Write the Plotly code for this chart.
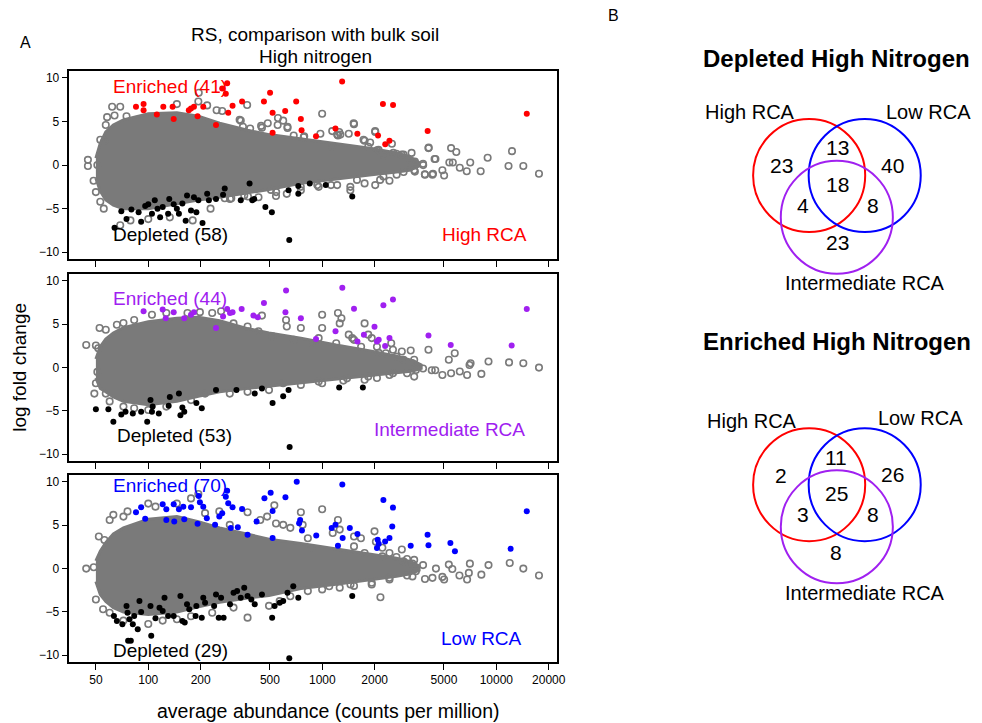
import math
import plotly.graph_objects as go

# ---------------- DATA ----------------
# x = average abundance (counts per million), y = log fold change
tick_cpm = [50, 100, 200, 500, 1000, 2000, 5000, 10000, 20000]
tick_lfc = [-10, -5, 0, 5, 10]

# --- High RCA panel (top) ---
high_enriched = [(85, 6.7), (94, 7.0), (94, 6.3), (112, 5.8), (122, 6.7), (138, 6.7), (140, 5.3),
                 (171, 6.3), (176, 6.5), (183, 6.7), (192, 5.6), (207, 6.7), (245, 4.6), (266, 8.8),
                 (279, 8.2), (284, 9.4), (288, 6.0), (305, 6.8), (346, 7.3), (462, 7.3), (501, 8.3),
                 (518, 6.0), (518, 3.7), (612, 6.2), (708, 7.3), (753, 5.3), (760, 4.0), (920, 3.3),
                 (1190, 4.2), (1300, 9.6), (1590, 3.6), (2090, 3.4), (2230, 7.0), (2300, 2.4),
                 (2430, 2.8), (2550, 6.9), (4030, 3.9), (14960, 5.9)]
high_depleted = [(64, -7.2), (70, -5.3), (75, -6.2), (80, -5.1), (88, -5.4), (91, -6.5), (96, -4.7),
                 (100, -4.5), (105, -5.6), (109, -4.05), (113, -5.0), (117, -6.0), (121, -4.8),
                 (130, -5.6), (132, -3.9), (140, -4.5), (146, -5.0), (150, -5.6), (157, -4.4),
                 (164, -6.4), (167, -3.5), (176, -5.2), (183, -3.7), (189, -5.4), (194, -4.05),
                 (205, -6.65), (218, -3.3), (223, -4.05), (245, -3.9), (269, -3.4), (275, -2.7),
                 (340, -4.05), (382, -2.1), (396, -4.05), (406, -3.9), (471, -4.8), (513, -5.4),
                 (640, -2.9), (646, -8.6), (728, -3.3), (728, -2.4), (847, -2.1), (1047, -2.3),
                 (1486, -3.6)]
high_other = [(62, 6.7), (58, 5.5), (57, 4.6), (64, 5.7), (75, 5.6), (69, 6.7), (53, 2.9), (56, 2.8),
              (45, 0.6), (45, -0.1), (51, 0.0), (48.5, -1.8), (50, -3.1), (53, -4.2), (55.5, -5.0),
              (69, -6.9), (146, 7.0), (195, 8.3), (194, 7.3), (218, 6.85), (247, 6.3), (370, 6.9),
              (340, 5.1), (385, 4.2), (450, 4.3), (556, 5.4), (596, 5.1), (631, 4.4), (685, 3.4),
              (782, 3.2), (998, 5.9), (975, 3.6), (1138, 2.1), (1230, 3.4), (1250, 3.8), (1419, 3.6),
              (1521, 4.7), (1750, 2.8), (2014, 3.8), (1837, 2.1), (2061, 1.7), (2512, 2.45),
              (2667, 1.3), (2265, 1.1), (79, -6.35), (100, -6.2), (133, -6.0), (180, -6.35),
              (228, -5.0), (295, -3.9), (356, -3.5), (430, -3.7), (543, -3.1), (625, -3.3),
              (753, -2.9), (953, -2.5), (1122, -2.3), (1449, -2.5), (1750, -2.1), (2014, -2.3),
              (2432, -1.8), (2931, -0.8), (1449, -2.9), (2931, 1.2), (3221, 0.2), (3373, -0.6),
              (3793, 0.15), (4074, 1.95), (4467, 0.7), (3890, -1.1), (4295, -1.1), (4898, -0.6),
              (5012, -1.2), (5370, 0.3), (5623, 0.3), (5495, 1.95), (5888, 1.5), (6166, -0.3),
              (6761, -0.7), (7079, 0.3), (8128, -0.7), (8913, 0.85), (11750, -0.1), (12300, 1.6),
              (14290, -0.1), (17580, -1.0),
              (266, 6.2), (335, 5.2), (350, 4.4), (445, 4.5), (486, 4.8), (554, 4.6), (631, 4.25),
              (787, 3.3), (1140, 3.9), (1217, 3.5), (1270, 3.5), (1514, 4.8), (1726, 2.9),
              (1884, 2.6), (2012, 3.9), (2105, 1.75), (2560, 1.4), (2856, 1.2), (3258, 1.4),
              (3404, 0.4), (3800, 0.0), (3882, -1.05), (4087, 2.0), (4325, -1.0), (4417, 0.7),
              (275, -3.8), (300, -3.8), (374, -3.6), (507, -2.85), (542, -3.55), (752, -2.5),
              (936, -2.3), (1217, -2.3), (1582, -1.7), (2149, -1.7), (2244, -1.3), (2674, -1.1),
              (3404, -0.75)]
high_core_cpm = [50, 53, 57, 63, 72, 100, 146, 194, 257, 372, 494, 753, 1200, 1920, 2670, 3160, 3600]
high_core_top = [0.8, 2.5, 3.8, 4.6, 5.2, 5.9, 6.0, 5.6, 4.8, 4.0, 3.5, 3.0, 2.4, 1.9, 1.4, 1.0, 0.3]
high_core_bot = [-1.5, -3.0, -4.0, -4.6, -5.0, -5.0, -4.4, -4.0, -3.7, -3.2, -2.8, -2.1, -1.6, -1.1,
                 -0.8, -0.6, -0.1]

# --- Intermediate RCA panel (middle) ---
mid_enriched = [(94, 6.5), (121, 6.7), (126, 5.7), (140, 6.4), (161, 5.7), (176, 6.1), (183, 6.4),
                (245, 4.56), (269, 5.9), (284, 6.76), (295, 6.3), (305, 6.4), (344, 6.76), (402, 6.0),
                (426, 5.8), (462, 7.45), (614, 6.4), (619, 8.9), (753, 5.7), (920, 3.3), (1191, 4.2),
                (1303, 9.2), (1521, 6.8), (1592, 3.0), (1734, 3.8), (1995, 4.7), (2061, 3.0),
                (2109, 3.2), (2244, 7.2), (2296, 2.5), (2432, 3.4), (2547, 7.85), (4074, 3.7),
                (5470, 2.6), (12250, 2.55), (14960, 6.76)]
mid_depleted = [(50, -4.8), (59, -4.8), (63, -6.25), (70, -5.4), (74, -5.1), (81.5, -5.3), (91, -5.1),
                (98.6, -6.25), (103, -3.75), (105, -5.1), (106, -4.5), (115, -5.3), (131, -4.4),
                (133, -3.4), (150, -3.0), (153, -5.5), (157, -4.6), (161, -5.1), (189, -4.1),
                (203, -4.7), (245, -2.6), (321, -2.6), (409, -3.0), (450, -2.4), (518, -4.1),
                (596, -3.3), (640, -2.6), (649, -9.15), (1250, -2.3), (1710, -2.3)]
mid_other = [(52.5, 4.56), (57, 4.36), (66, 4.94), (72, 5.14), (83, 5.5), (105, 6.1), (127, 6.3),
             (168, 6.3), (198, 6.4), (233, 6.3), (262, 6.5), (309, 5.1), (372, 4.75), (450, 6.0),
             (430, 4.2), (518, 3.6), (619, 5.5), (625, 4.75), (753, 4.56), (867, 2.8), (998, 6.1),
             (998, 4.56), (1230, 6.3), (1259, 5.1), (1288, 5.7), (1419, 3.8), (1486, 3.4),
             (1750, 5.1), (1837, 3.8), (1923, 3.4), (2061, 2.4), (2109, 1.7), (2489, 2.8),
             (2547, 2.05), (2864, 1.85), (3221, 1.97), (3373, 0.9), (44, 2.6), (50, 2.55),
             (51.6, 2.24), (50, -1.8), (49, -3.0), (51, -0.5), (57, -3.0), (60, -3.9), (72, -4.5),
             (83, -4.7), (100, -4.9), (127, -4.5), (176, -3.75), (212, -3.0), (294, -3.0),
             (372, -2.8), (494, -2.6), (596, -1.8), (753, -2.0), (998, -1.8), (1321, -1.5),
             (1750, -1.4), (2061, -1.2), (2547, -0.66), (3373, -1.04), (3793, -0.1), (4074, 2.05),
             (4256, -0.3), (4457, -0.3), (4898, -0.85), (5333, 0.9), (5768, 1.66), (5495, -0.66),
             (6166, -0.46), (6792, -0.85), (7015, 0.3), (7112, 0.5), (8204, -0.73), (9016, 0.7),
             (11830, 0.6), (14290, 0.5), (17580, 0.0),
             (1521, 3.2), (1671, 2.4), (2317, 1.66), (2667, 1.27), (2931, 0.9), (3296, 0.5),
             (3451, -0.27), (3069, -0.66), (2432, -0.85), (1837, -1.04), (1387, -1.24),
             (953, -1.62), (1202, 2.8), (953, 3.4), (686, 3.2)]
mid_core_cpm = [50, 53, 57, 63, 72, 100, 146, 194, 257, 372, 494, 753, 1200, 1920, 2670, 3310, 3700]
mid_core_top = [1.0, 2.4, 3.3, 4.0, 4.6, 5.3, 5.7, 5.8, 5.4, 4.5, 4.0, 3.4, 2.6, 1.9, 1.3, 0.8, 0.3]
mid_core_bot = [-1.2, -2.4, -2.8, -3.4, -3.9, -4.3, -3.9, -3.3, -2.8, -2.4, -2.1, -1.7, -1.3, -0.9,
                -0.6, -0.4, -0.1]

# --- Low RCA panel (bottom) ---
low_enriched = [(85, 6.5), (91, 7.07), (96, 5.74), (121, 7.42), (127, 6.85), (127, 5.62), (140, 7.42),
                (141, 5.43), (150, 6.85), (159, 7.15), (161, 5.7), (176, 7.07), (192, 5.16),
                (195, 8.37), (198, 7.65), (207, 7.15), (217, 5.81), (242, 5.05), (256, 6.0),
                (266, 6.39), (279, 8.3), (284, 8.99), (288, 7.53), (298, 4.67), (305, 7.07),
                (327, 4.78), (346, 6.88), (372, 3.9), (419, 5.43), (465, 8.11), (505, 8.76),
                (518, 3.52), (518, 6.65), (614, 8.22), (713, 10.02), (736, 5.24), (746, 5.62),
                (764, 4.4), (923, 3.82), (1132, 4.67), (1191, 5.05), (1230, 2.64), (1303, 9.71),
                (1309, 3.52), (1439, 4.67), (1592, 3.98), (2061, 2.37), (2080, 3.33), (2109, 2.87),
                (2244, 7.92), (2296, 3.14), (2432, 3.52), (2523, 4.86), (2547, 7.04), (3221, 2.64),
                (4027, 3.9), (4074, 2.68), (5445, 2.94), (5781, 1.99), (12080, 2.29), (14960, 6.62)]
low_depleted = [(63.5, -5.47), (66, -6.04), (71, -6.42), (75, -4.32), (76, -5.09), (76.6, -8.34),
                (79.4, -8.34), (78, -5.85), (81.5, -6.42), (83, -5.47), (87, -7.0), (89, -3.75),
                (91, -5.01), (103, -4.32), (104, -7.76), (110, -5.74), (116, -4.51), (121, -4.89),
                (124, -3.37), (130, -5.47), (140, -5.47), (153, -3.17), (157, -6.04), (162, -6.23),
                (167, -4.13), (172, -4.7), (187, -5.47), (189, -4.32), (203, -5.66), (207, -3.37),
                (212, -3.94), (239, -4.32), (245, -2.98), (254, -5.66), (262, -3.37), (271, -5.66),
                (295, -4.13), (309, -2.79), (324, -2.6), (340, -3.37), (356, -2.22), (372, -3.17),
                (391, -3.56), (409, -4.13), (450, -2.98), (515, -5.66), (532, -4.32), (569, -3.94),
                (596, -3.75), (631, -2.79), (646, -10.36), (681, -2.03), (728, -3.37), (1486, -3.17)]
low_other = [(52, 3.7), (56, 3.3), (60, 5.6), (63, 6.2), (72, 6.0), (76, 6.6), (100, 7.5), (110, 7.15),
             (146, 7.5), (176, 8.1), (194, 8.6), (212, 6.4), (256, 6.6), (294, 5.05), (372, 6.5),
             (440, 5.6), (482, 6.0), (530, 7.3), (542, 5.2), (596, 5.05), (655, 4.7), (753, 6.5),
             (771, 5.05), (826, 3.5), (998, 6.85), (1148, 4.1), (1230, 5.6), (1259, 4.5),
             (1521, 3.7), (1667, 3.5), (1995, 4.3), (2032, 3.1), (2213, 2.4), (2432, 1.8),
             (2864, 2.2), (3069, 1.1), (3373, 1.0), (44, 0.0), (48.6, 0.15), (50, -3.56),
             (55, -4.7), (60, -5.1), (72, -6.0), (100, -6.4), (121, -6.0), (146, -5.85),
             (176, -5.5), (233, -5.1), (309, -4.5), (372, -5.66), (494, -4.3), (569, -3.75),
             (655, -3.2), (826, -2.6), (998, -2.4), (1259, -2.2), (1521, -2.0), (1923, -1.84),
             (2158, -3.3), (2432, -1.26), (3296, -0.9), (3793, 0.4), (3890, -1.2), (4295, -1.07),
             (4498, 0.0), (4898, -0.96), (5012, -1.26), (5333, 0.46), (5585, -0.04), (6138, -0.8),
             (6792, -1.26), (6950, -0.5), (7047, 0.57), (8204, -0.7), (9016, 0.4), (11940, 0.65),
             (14290, 0.0), (17580, -0.8),
             (1521, 2.56), (1750, 1.8), (2213, 1.41), (2667, 1.34), (2931, 0.84), (3296, 0.57),
             (3451, -0.31), (3069, -0.8), (2432, -1.07), (1923, -1.64), (1452, -1.84),
             (1096, -2.03), (867, 2.18)]
low_core_cpm = [50, 53, 57, 63, 72, 100, 146, 194, 257, 372, 494, 753, 1200, 1920, 2670, 3220, 3600]
low_core_top = [0.9, 2.0, 3.0, 4.0, 4.7, 5.7, 6.0, 5.4, 4.7, 4.0, 3.4, 2.9, 2.3, 1.7, 1.2, 0.8, 0.3]
low_core_bot = [-1.5, -3.0, -3.8, -4.5, -5.0, -5.3, -5.0, -4.4, -3.9, -3.4, -3.1, -2.3, -1.8, -1.3,
                -0.9, -0.6, -0.2]

panel_names = ["High RCA", "Intermediate RCA", "Low RCA"]
enriched_counts = [41, 44, 70]
depleted_counts = [58, 53, 29]

# Venn diagrams (region counts)
venn_sets = ["High RCA", "Low RCA", "Intermediate RCA"]
venn_regions = ["High only", "High&Low", "Low only", "All three", "High&Int", "Low&Int", "Int only"]
venn_depleted = [23, 13, 40, 18, 4, 8, 23]
venn_enriched = [2, 11, 26, 25, 3, 8, 8]

# ---------------- STYLE / LAYOUT ----------------
FONT = "Liberation Sans, Arial, sans-serif"
GREY = "#7a7a7a"
RED, PURPLE, BLUE = "#FF0000", "#A020F0", "#0000FF"
W, H = 982, 723
XL, XR = 70, 562
panel_px = [(71, 259), (274, 461), (475, 662)]   # top, middle, bottom (pixel rows)
XRANGE = [1.547, 4.351]
YRANGE = [-10.78, 10.8]

fig = go.Figure()

def split(pairs):
    return [p[0] for p in pairs], [p[1] for p in pairs]

panels = [
    (high_enriched, high_depleted, high_other, high_core_cpm, high_core_top, high_core_bot, RED),
    (mid_enriched, mid_depleted, mid_other, mid_core_cpm, mid_core_top, mid_core_bot, PURPLE),
    (low_enriched, low_depleted, low_other, low_core_cpm, low_core_top, low_core_bot, BLUE),
]
# axis ids: top -> x3/y3, middle -> x2/y2, bottom -> x/y
axis_ids = ["3", "2", ""]

for i, (enr, dep, oth, ccpm, ctop, cbot, col) in enumerate(panels):
    aid = axis_ids[i]
    xa, ya = "x" + aid, "y" + aid
    fig.add_trace(go.Scatter(x=ccpm + ccpm[::-1], y=ctop + cbot[::-1], mode="lines",
                             fill="toself", fillcolor=GREY, line=dict(color=GREY, width=3),
                             xaxis=xa, yaxis=ya, hoverinfo="skip"))
    ox, oy = split(oth)
    fig.add_trace(go.Scatter(x=ox, y=oy, mode="markers", xaxis=xa, yaxis=ya,
                             marker=dict(symbol="circle-open", size=6.5, color=GREY,
                                         line=dict(width=1.6, color=GREY))))
    dx, dy = split(dep)
    fig.add_trace(go.Scatter(x=dx, y=dy, mode="markers", xaxis=xa, yaxis=ya,
                             marker=dict(symbol="circle", size=6, color="black")))
    ex, ey = split(enr)
    fig.add_trace(go.Scatter(x=ex, y=ey, mode="markers", xaxis=xa, yaxis=ya,
                             marker=dict(symbol="circle", size=6, color=col)))

layout = dict(width=W, height=H, margin=dict(l=0, r=0, t=0, b=0), showlegend=False,
              paper_bgcolor="white", plot_bgcolor="white",
              font=dict(family=FONT, color="black"))

xdom = [XL / W, XR / W]
for i, aid in enumerate(axis_ids):
    top, bot = panel_px[i]
    ydom = [1 - bot / H, 1 - top / H]
    key = aid if aid else ""
    layout["xaxis" + key] = dict(type="log", range=XRANGE, domain=xdom, anchor="y" + key,
                                 tickvals=tick_cpm, ticktext=[str(v) for v in tick_cpm],
                                 showticklabels=(i == 2), ticks="outside", ticklen=6,
                                 tickwidth=1, tickcolor="black", showline=True, mirror=True,
                                 linecolor="black", linewidth=1.5, showgrid=False, zeroline=False,
                                 tickfont=dict(size=12, family=FONT))
    layout["yaxis" + key] = dict(range=YRANGE, domain=ydom, anchor="x" + key,
                                 tickvals=tick_lfc, ticks="outside", ticklen=6, tickwidth=1,
                                 tickcolor="black", showline=True, mirror=True,
                                 linecolor="black", linewidth=1.5, showgrid=False, zeroline=False,
                                 tickfont=dict(size=12, family=FONT))

# Venn axis: pixel-like coordinates
layout["xaxis4"] = dict(domain=[589 / W, 1], range=[589, 982], visible=False, anchor="y4")
layout["yaxis4"] = dict(domain=[0, 1], range=[723, 0], visible=False, anchor="x4")
fig.update_layout(**layout)

ann = []
def text(x, y, s, size=19, color="black", xref="paper", yref="paper", xanchor="center",
         bold=False, angle=0):
    ann.append(dict(x=x, y=y, xref=xref, yref=yref, text=("<b>%s</b>" % s) if bold else s,
                    showarrow=False, xanchor=xanchor, yanchor="middle", textangle=angle,
                    font=dict(size=size, color=color, family=FONT)))

# Panel texts (log10 x positions on log axes)
label_pos = [  # (enriched y, depleted x, depleted y, name right x, name y)
    (9.0, 61, -8.0, 15450, -8.0),
    (7.95, 64, -7.8, 15100, -7.2),
    (9.64, 61, -9.5, 14400, -8.07),
]
colors = [RED, PURPLE, BLUE]
for i, aid in enumerate(axis_ids):
    ey, dxp, dyp, nx, ny = label_pos[i]
    xr, yr = "x" + aid, "y" + aid
    text(math.log10(61), ey, "Enriched (%d)" % enriched_counts[i], color=colors[i],
         xref=xr, yref=yr, xanchor="left")
    text(math.log10(dxp), dyp, "Depleted (%d)" % depleted_counts[i], xref=xr, yref=yr,
         xanchor="left")
    text(math.log10(nx), ny, panel_names[i], color=colors[i], xref=xr, yref=yr, xanchor="right")

def px(xp, yp):
    return xp / W, 1 - yp / H

text(*px(26, 42), "A", size=16, xanchor="center")
text(*px(619, 15), "B", size=16, xanchor="center")
text(*px(318, 34), "RS, comparison with bulk soil", size=19)
text(*px(318, 57), "High nitrogen", size=19)
text(*px(331, 711), "average abundance (counts per million)", size=19.5)
text(*px(19, 367), "log fold change", size=19, angle=-90)

# Venn diagrams
venn_blocks = [
    dict(title="Depleted High Nitrogen", ty=58, counts=venn_depleted,
         circles=[(815.8, 175.5, 56.5), (871.8, 175.5, 56.5), (843.7, 217.3, 56.5)],
         labels=[(756.5, 112.3), (936, 112.3), (871.8, 282.7)],
         nums=[(787.7, 165.7), (844, 147.7), (900, 165.7), (844, 184), (810, 205.7),
               (880, 205.4), (844, 242.3)]),
    dict(title="Enriched High Nitrogen", ty=341.7, counts=venn_enriched,
         circles=[(815.8, 484.7, 56.5), (871.8, 484.7, 56.5), (843.7, 526.8, 56.5)],
         labels=[(758, 421), (927.7, 417.7), (871.8, 593.3)],
         nums=[(787.7, 475), (843.3, 457.7), (900, 474.3), (843.3, 493.3), (810, 514.7),
               (880, 514.7), (843.3, 552.7)]),
]
venn_colors = [RED, BLUE, PURPLE]
shapes = []
for blk in venn_blocks:
    text(843.5, blk["ty"], blk["title"], size=24, xref="x4", yref="y4", bold=True)
    for (cx, cy, r), c in zip(blk["circles"], venn_colors):
        shapes.append(dict(type="circle", xref="x4", yref="y4", x0=cx - r, x1=cx + r,
                           y0=cy - r, y1=cy + r, line=dict(color=c, width=2)))
    for (lx, ly), name in zip(blk["labels"], venn_sets):
        text(lx, ly, name, size=20, xref="x4", yref="y4")
    for (nx_, ny_), n in zip(blk["nums"], blk["counts"]):
        text(nx_, ny_, str(n), size=21, xref="x4", yref="y4")

fig.update_layout(annotations=ann, shapes=shapes)
fig.write_html("out.html")
